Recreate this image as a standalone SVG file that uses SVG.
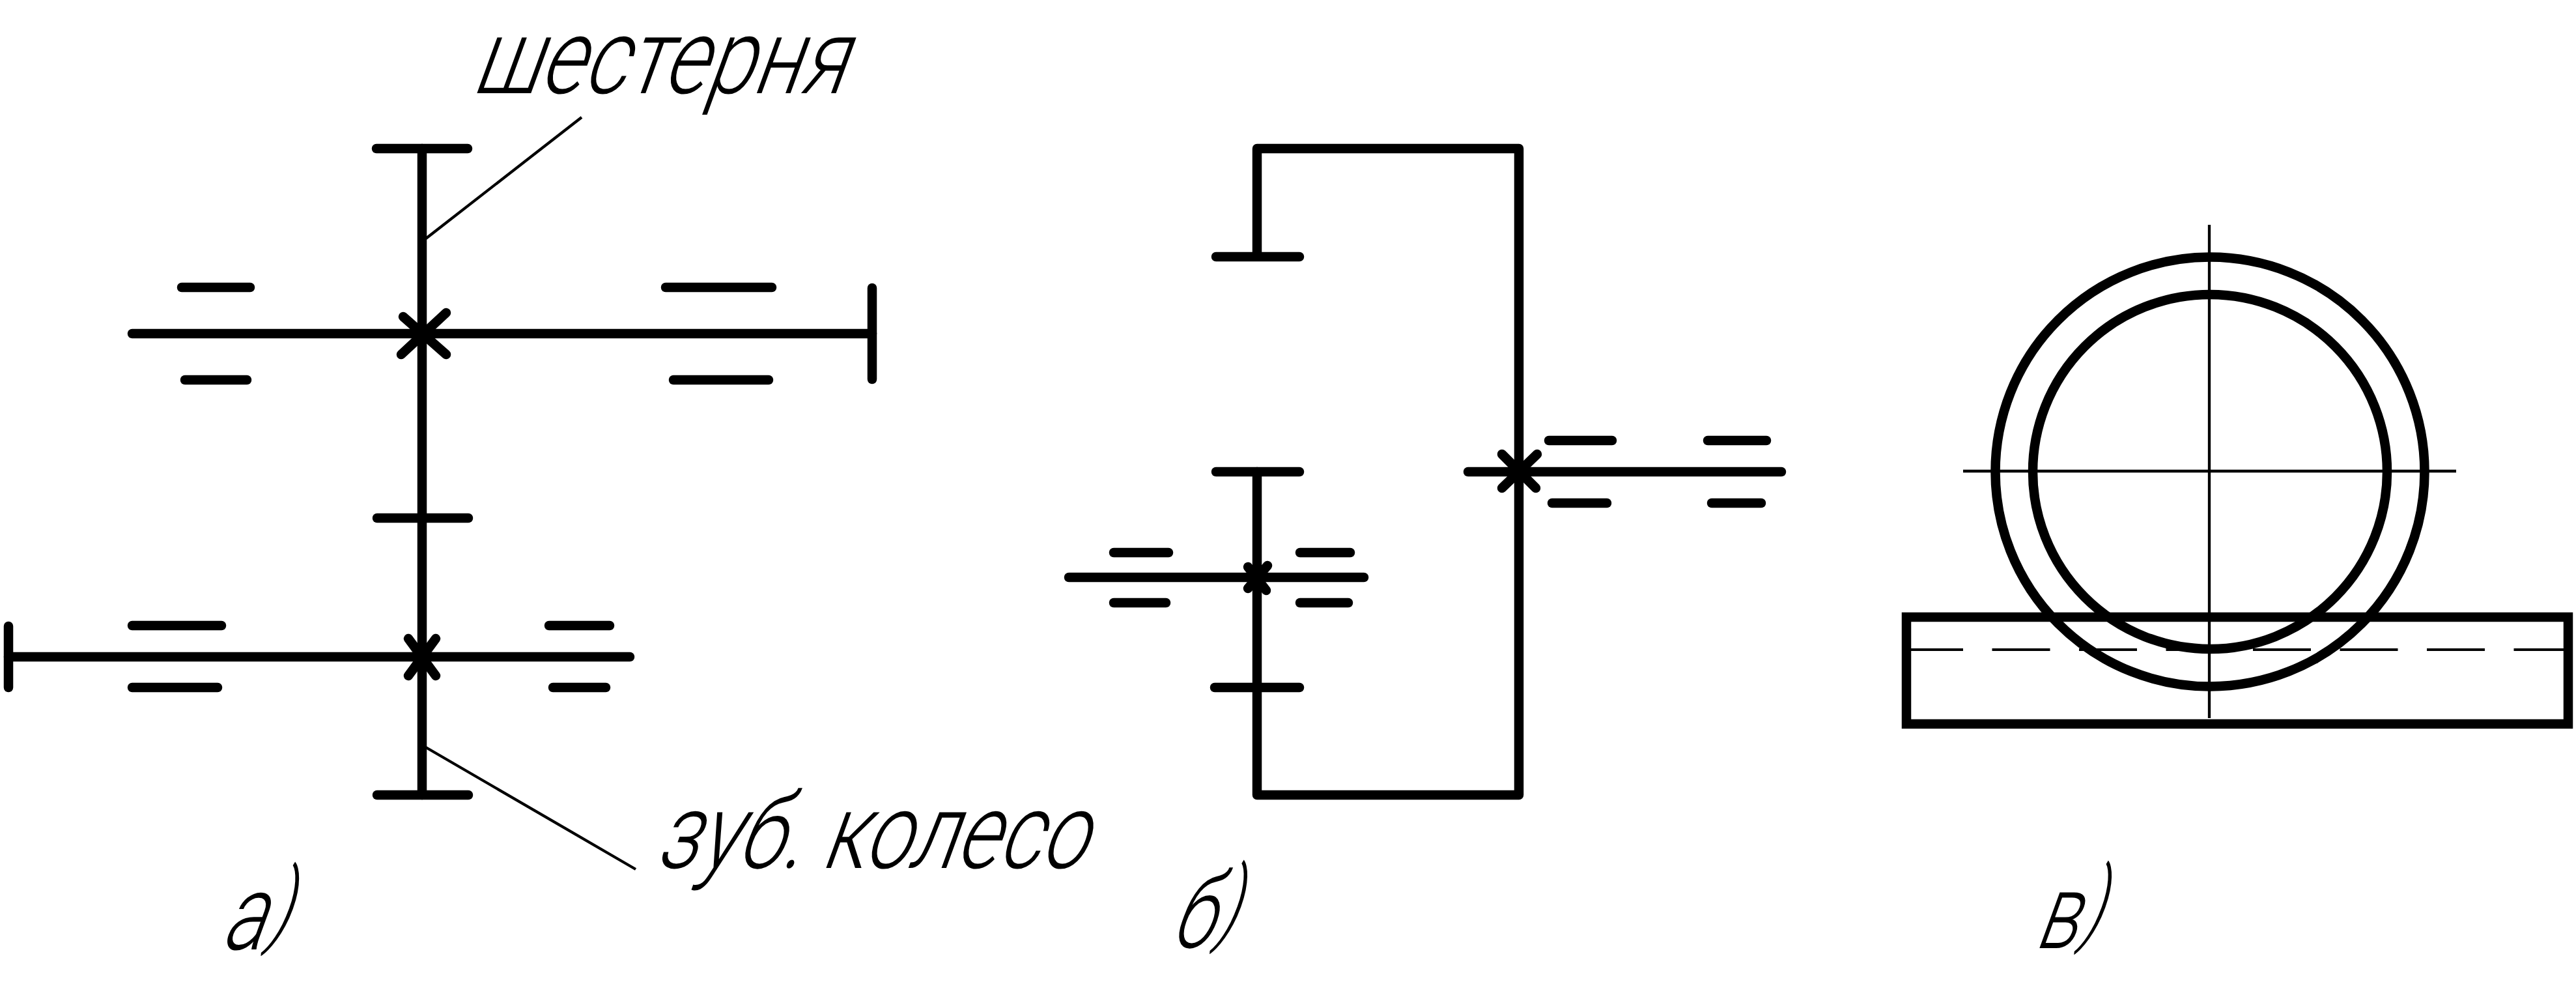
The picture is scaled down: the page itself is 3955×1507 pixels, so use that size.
<svg xmlns="http://www.w3.org/2000/svg" width="3955" height="1507" viewBox="0 0 3955 1507">
<style>
.bg{fill:#fff}
line,path,circle,rect.o{fill:none;stroke:#000}
.h{stroke-width:14.5;stroke-linecap:round}
.m{stroke-width:14.5;stroke-linecap:round;stroke-linejoin:round}
.c{stroke-width:14.5}
.t{stroke-width:4.3}
.d{stroke-width:3.8;stroke-dasharray:89 44.5;stroke-dashoffset:8}
text{font-family:"Roboto","Liberation Sans",sans-serif;font-weight:300;fill:#000;font-size:162px}
</style>
<rect class="bg" width="3955" height="1507"/>
<g id="scheme-a">
<line class="h" x1="648" y1="228" x2="648" y2="1220"/>
<line class="h" x1="578" y1="228" x2="718" y2="228"/>
<line class="h" x1="579" y1="795" x2="719" y2="795"/>
<line class="h" x1="579" y1="1220" x2="719" y2="1220"/>
<line class="h" x1="203" y1="512" x2="1339" y2="512"/>
<line class="h" x1="1339" y1="442" x2="1339" y2="582"/>
<line class="h" x1="279" y1="441" x2="384" y2="441"/>
<line class="h" x1="284" y1="583" x2="379" y2="583"/>
<line class="h" x1="1022" y1="441" x2="1185" y2="441"/>
<line class="h" x1="1034" y1="583" x2="1180" y2="583"/>
<line class="h" x1="619" y1="486" x2="685" y2="544"/>
<line class="h" x1="685" y1="480" x2="616" y2="544"/>
<line class="h" x1="13" y1="961" x2="13" y2="1055"/>
<line class="h" x1="13" y1="1008" x2="967" y2="1008"/>
<line class="h" x1="203" y1="960" x2="340" y2="960"/>
<line class="h" x1="203" y1="1055" x2="334" y2="1055"/>
<line class="h" x1="843" y1="960" x2="936" y2="960"/>
<line class="h" x1="849" y1="1055" x2="930" y2="1055"/>
<line class="h" x1="627" y1="980" x2="669" y2="1037"/>
<line class="h" x1="669" y1="980" x2="627" y2="1037"/>
</g>
<g id="connectors">
<line class="t" x1="893" y1="180" x2="654" y2="366"/>
<line class="t" x1="654" y1="1147" x2="976" y2="1334"/>
</g>
<g id="label-shesternya"><text transform="translate(722,143) skewX(-20)" textLength="572" lengthAdjust="spacingAndGlyphs">шестерня</text></g>
<g id="label-koleso"><text transform="translate(1004,1332) skewX(-20)" textLength="660" lengthAdjust="spacingAndGlyphs">зуб. колесо</text></g>
<g id="label-a"><text transform="translate(337,1457) skewX(-20)" textLength="98" lengthAdjust="spacingAndGlyphs">а<tspan font-size="141" dy="-22">)</tspan></text></g>
<g id="scheme-b">
<path class="m" d="M1867 394H1995M1930 394V228H2332V1220H1930V724"/>
<line class="m" x1="1867" y1="724" x2="1995" y2="724"/>
<line class="m" x1="1865" y1="1055" x2="1995" y2="1055"/>
<line class="m" x1="1641" y1="886" x2="2094" y2="886"/>
<line class="m" x1="1710" y1="848" x2="1794" y2="848"/>
<line class="m" x1="1710" y1="925" x2="1790" y2="925"/>
<line class="m" x1="1996" y1="848" x2="2073" y2="848"/>
<line class="m" x1="1996" y1="925" x2="2070" y2="925"/>
<line class="m" x1="1916" y1="870" x2="1944" y2="906"/>
<line class="m" x1="1946" y1="868" x2="1916" y2="903"/>
<line class="m" x1="2254" y1="724" x2="2735" y2="724"/>
<line class="m" x1="2306" y1="697" x2="2358" y2="749"/>
<line class="m" x1="2360" y1="697" x2="2306" y2="749"/>
<line class="m" x1="2378" y1="676" x2="2475" y2="676"/>
<line class="m" x1="2383" y1="772" x2="2467" y2="772"/>
<line class="m" x1="2622" y1="676" x2="2712" y2="676"/>
<line class="m" x1="2628" y1="772" x2="2704" y2="772"/>
</g>
<g id="label-b"><text transform="translate(1795,1454) skewX(-20)" textLength="95" lengthAdjust="spacingAndGlyphs">б<tspan font-size="141" dy="-22">)</tspan></text></g>
<g id="scheme-c">
<circle class="c" cx="3393" cy="724" r="329.5"/>
<circle class="c" cx="3393" cy="724" r="272"/>
<rect class="o c" x="2927" y="947" width="1016" height="164"/>
<line class="t" x1="3392" y1="345" x2="3392" y2="1102"/>
<line class="t" x1="3014" y1="723" x2="3771" y2="723"/>
<line class="d" x1="2933" y1="997" x2="3937" y2="997"/>
</g>
<g id="label-c"><text transform="translate(3122,1455) skewX(-20)" textLength="95" lengthAdjust="spacingAndGlyphs">в<tspan font-size="141" dy="-22">)</tspan></text></g>
</svg>
